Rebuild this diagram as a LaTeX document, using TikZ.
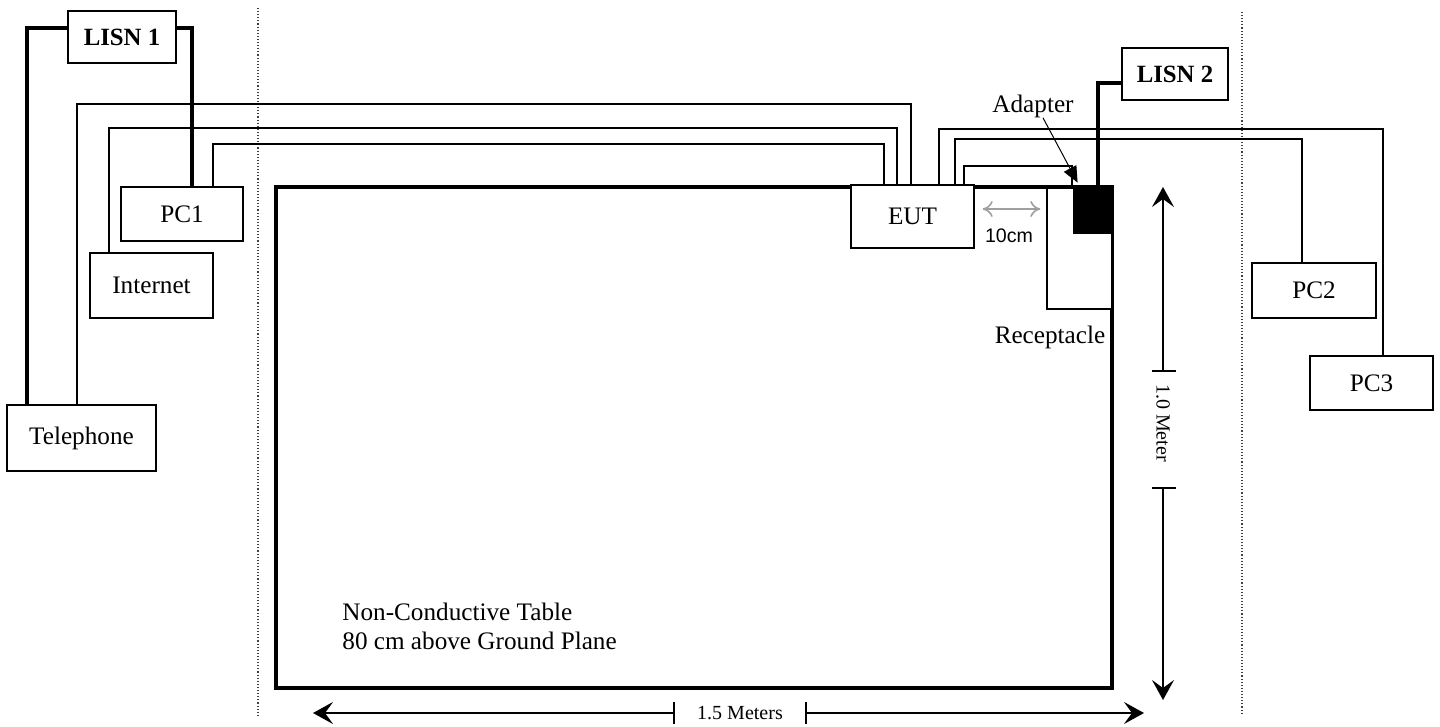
\documentclass[tikz,border=0pt]{standalone}
\usepackage{fontspec}
\setmainfont{Liberation Serif}
\newfontfamily\arialfont{Liberation Sans}
\usetikzlibrary{arrows.meta}

\begin{document}
\begin{tikzpicture}[
		x=0.5pt,
		y=-0.5pt,
		>={Stealth[length=10pt,width=11pt,inset=4pt]},
		box/.style={draw,fill=white,line width=0.7pt,inner sep=0pt,font=\fontsize{12.6}{15}\selectfont},
		lisnbox/.style={box,font=\bfseries\fontsize{12.4}{15}\selectfont},
		wire/.style={line width=0.85pt},
		mains/.style={line width=2.2pt},
		guide/.style={densely dotted,black!75,line width=0.55pt},
		tablebox/.style={line width=1.9pt},
		note/.style={inner sep=0pt,font=\fontsize{12.6}{14.5}\selectfont},
		dimnote/.style={inner sep=0pt,font=\fontsize{10}{12}\selectfont},
		dimline/.style={line width=0.9pt},
		gap/.style={{To[length=5pt,width=8pt]}-{To[length=5pt,width=8pt]},gray!75,line width=0.8pt},
		pointer/.style={-{Triangle[length=8pt,width=7pt]},line width=0.5pt}
	]
	
	\useasboundingbox (0,0) rectangle (1440,727);
	
	% Ground plane limits
	\draw[guide] (258,8) -- (258,715);
	\draw[guide] (1242,12) -- (1242,715);
	
	% Table
	\draw[tablebox] (276,187) rectangle (1112,688);
	\node[note,anchor=west,align=left] (tabletext) at (342,626)
	{Non-Conductive Table\\80 cm above Ground Plane};
	
	% Equipment
	\node[lisnbox,minimum width=54pt,minimum height=26pt] (lisn1) at (122,37) {LISN 1};
	\node[lisnbox,minimum width=53pt,minimum height=26pt] (lisn2) at (1175,74) {LISN 2};
	\node[box,minimum width=61pt,minimum height=27pt] (pc1) at (182,214) {PC1};
	\node[box,minimum width=61.5pt,minimum height=32.5pt] (inet) at (151.5,285.5) {Internet};
	\node[box,minimum width=74.5pt,minimum height=33pt] (tel) at (81.5,438) {Telephone};
	\node[box,minimum width=61.5pt,minimum height=31.5pt] (eut) at (912.5,216.5) {EUT};
	\node[box,minimum width=62pt,minimum height=27.5pt] (pc2) at (1314,290.5) {PC2};
	\node[box,minimum width=61.5pt,minimum height=27pt] (pc3) at (1371.5,383) {PC3};
	
	% Receptacle and adapter
	\node[box,minimum width=32.5pt,minimum height=60.5pt] (recep) at (1079.5,248.5) {};
	\node[draw,fill=black,inner sep=0pt,minimum width=19.5pt,minimum height=23.5pt] (adapter) at (1092.5,209.5) {};
	\node[note] (receplabel) at (1050,337) {Receptacle};
	\node[note] (adaptlabel) at (1033,106) {Adapter};
	\draw[pointer] ([xshift=5pt]adaptlabel.south) -- ([shift={(2.5pt,1.5pt)}]adapter.north west);
	
	% Power lines
	\draw[mains] (lisn1.west |- 0,28) -| (tel.north -| 27,0);
	\draw[mains] (lisn1.east |- 0,28) -| (pc1.north -| 192,0);
	\draw[mains] (adapter.north -| 1098,0) |- (lisn2.west |- 0,83);
	
	% Signal cables
	\draw[wire] (tel.north -| 77,0) -- (77,104) -| (eut.north -| 911,0);
	\draw[wire] (inet.north -| 109,0) -- (109,128) -| (eut.north -| 897,0);
	\draw[wire] (pc1.north -| 213,0) -- (213,144) -| (eut.north -| 884,0);
	\draw[wire] (eut.north -| 939,0) -- (939,129) -| (pc3.north -| 1383,0);
	\draw[wire] (eut.north -| 955,0) -- (955,139) -| (pc2.north -| 1302,0);
	\draw[wire] (eut.north -| 964,0) -- (964,166) -| (adapter.north -| 1072,0);
	
	% Spacing EUT - receptacle
	\draw[gap] ([shift={(4pt,3.75pt)}]eut.east) -- ([shift={(-3pt,19.75pt)}]recep.west);
	\node[inner sep=0pt,font=\arialfont\fontsize{9.8}{12}\selectfont] (gaplabel) at (1009,236) {10cm};
	
	% Table depth
	\coordinate (vtop) at (1163,187);
	\coordinate (vbot) at (1163,700);
	\node[dimnote,rotate=-90] (depth) at (1163,423) {1.0 Meter};
	\draw[dimline,<-] (vtop) -- (1163,371);
	\draw[dimline] (1152,371) -- (1176,371);
	\draw[dimline,->] (1163,488) -- (vbot);
	\draw[dimline] (1152,488) -- (1176,488);
	
	% Table width
	\coordinate (hleft) at (313,713);
	\coordinate (hright) at (1144,713);
	\node[dimnote] (width) at (740,713) {1.5 Meters};
	\draw[dimline,<-] (hleft) -- (674,713);
	\draw[dimline] (674,702) -- (674,724);
	\draw[dimline,->] (806,713) -- (hright);
	\draw[dimline] (806,702) -- (806,724);
	
\end{tikzpicture}
\end{document}
